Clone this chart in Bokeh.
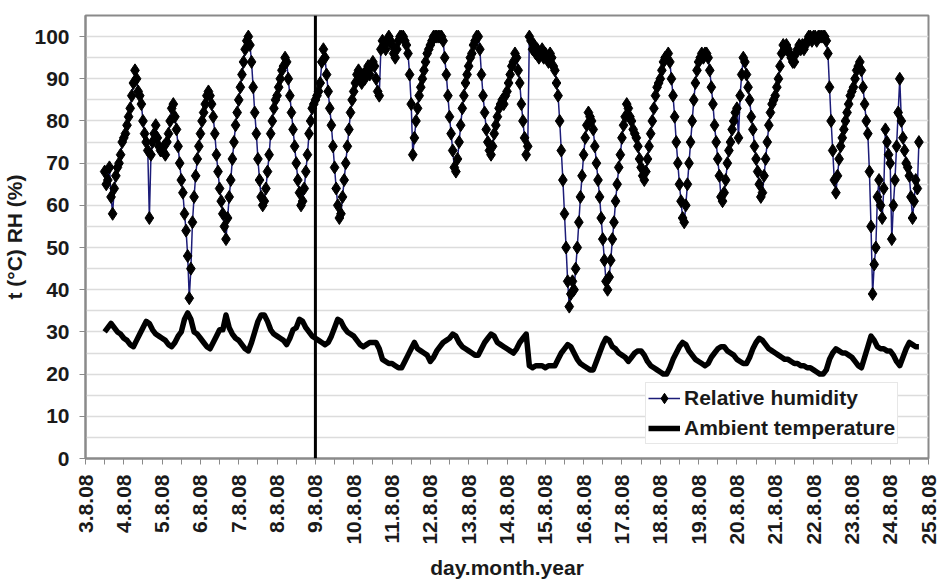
import numpy as np
from bokeh.plotting import figure
from bokeh.models import (ColumnDataSource, FixedTicker, Span, Legend, LegendItem)
from bokeh.embed import file_html
from bokeh.resources import INLINE

# ---- data ----
# relative humidity, hourly, first sample 3.8.08 12:00
rh_start_day = 3.5
rh_step_hours = 1
rh = [
    # 3.8 (12:00-23:00)
    68, 65, 66, 69, 62, 58, 64, 67, 69, 70, 72, 75,
    # 4.8
    76, 77, 79, 81, 83, 86, 89, 92, 90, 87, 86, 84,
    80, 77, 75, 73, 57, 72, 75, 77, 79, 76, 74, 73,
    # 5.8
    73, 74, 72, 75, 77, 80, 83, 84, 81, 78, 74, 70,
    66, 63, 58, 54, 48, 38, 45, 56, 62, 67, 71, 74,
    # 6.8
    77, 80, 82, 84, 86, 87, 86, 84, 81, 77, 72, 68,
    64, 61, 58, 55, 52, 57, 62, 66, 71, 75, 79, 82,
    # 7.8
    85, 88, 91, 94, 97, 99, 100, 98, 94, 88, 82, 77,
    71, 66, 62, 60, 61, 64, 68, 72, 77, 80, 83, 85,
    # 8.8
    86, 88, 90, 92, 93, 95, 94, 90, 86, 82, 78, 74,
    70, 66, 63, 60, 61, 64, 68, 72, 77, 80, 83, 84,
    # 9.8
    85, 86, 87, 89, 94, 97, 95, 91, 87, 83, 79, 74,
    69, 64, 60, 57, 58, 62, 66, 70, 74, 78, 82, 85,
    # 10.8
    87, 89, 91, 92, 90, 89, 91, 90, 92, 93, 91, 93,
    94, 93, 90, 87, 86, 97, 99, 98, 97, 99, 100, 99,
    # 11.8
    98, 96, 95, 97, 99, 100, 100, 100, 99, 98, 96, 91,
    84, 72, 76, 80, 83, 86, 88, 90, 92, 94, 96, 97,
    # 12.8
    98, 99, 100, 100, 100, 100, 100, 100, 99, 95, 91, 86,
    81, 77, 73, 69, 68, 71, 75, 79, 83, 86, 89, 91,
    # 13.8
    93, 95, 96, 98, 99, 100, 100, 97, 91, 86, 82, 78,
    75, 73, 72, 74, 77, 79, 81, 83, 84, 85, 84, 86,
    # 14.8
    87, 89, 91, 93, 94, 96, 95, 92, 89, 84, 80, 76,
    72, 74, 100, 99, 97, 98, 96, 97, 95, 96, 97, 95,
    # 15.8
    96, 95, 94, 96, 95, 93, 92, 89, 86, 80, 73, 66,
    58, 50, 42, 36, 39, 42, 40, 45, 50, 56, 62, 67,
    # 16.8
    72, 76, 79, 82, 81, 80, 78, 74, 70, 66, 62, 57,
    52, 47, 42, 40, 43, 47, 52, 56, 61, 65, 69, 72,
    # 17.8
    76, 79, 81, 84, 83, 81, 80, 78, 77, 76, 74, 71,
    69, 67, 66, 68, 71, 74, 77, 80, 83, 86, 88, 89,
    # 18.8
    90, 92, 94, 95, 95, 96, 94, 90, 86, 81, 75, 70,
    65, 61, 57, 56, 60, 65, 70, 75, 80, 85, 89, 92,
    # 19.8
    94, 95, 96, 95, 96, 96, 95, 92, 88, 84, 79, 75,
    71, 67, 62, 61, 63, 66, 70, 73, 75, 78, 80, 82,
    # 20.8
    83, 76, 86, 91, 95, 94, 91, 88, 85, 81, 78, 74,
    71, 68, 65, 62, 63, 67, 71, 75, 79, 82, 84, 85,
    # 21.8
    86, 88, 90, 93, 96, 98, 97, 98, 97, 96, 95, 94,
    94, 96, 97, 98, 97, 98, 97, 98, 99, 100, 100, 99,
    # 22.8
    100, 100, 99, 100, 100, 100, 100, 100, 99, 96, 88, 80,
    73, 66, 63, 67, 71, 74, 76, 78, 80, 82, 84, 86,
    # 23.8
    87, 88, 90, 92, 93, 94, 92, 88, 84, 80, 77, 68,
    55, 39, 46, 50, 62, 66, 60, 57, 64, 78, 75, 72,
    # 24.8 (00:00-18:00)
    70, 52, 60, 66, 74, 82, 90, 80, 76, 73, 70, 69,
    67, 62, 57, 61, 66, 64, 75,
]

# ambient temperature, every 2 hours, first sample 3.8.08 12:00
t_start_day = 3.5
t_step_hours = 2
temp = [
    # 3.8
    30, 31, 32, 31, 30, 29.5,
    # 4.8
    28.5, 28, 27, 26.5, 28, 29.5, 31, 32.5, 32, 30.5, 29.5, 29,
    # 5.8
    28.5, 28, 27, 26.5, 27.5, 29, 30, 33, 34.5, 33, 30, 29.5,
    # 6.8
    28.5, 27.5, 26.5, 26, 27.5, 29, 30.5, 30.5, 34, 31, 29.5, 28.5,
    # 7.8
    28, 27, 26, 25.5, 27.5, 30, 32.5, 34, 34, 32.5, 30.5, 29.5,
    # 8.8
    29, 28.5, 28, 27, 28.5, 30.5, 31, 33, 32.5, 31, 30, 29,
    # 9.8
    28.5, 28, 27.5, 27, 27.5, 29, 31, 33, 32.5, 31, 30, 29.5,
    # 10.8
    29, 28, 27, 26.5, 27, 27.5, 27.5, 27.5, 26, 23.5, 23, 22.5,
    # 11.8
    22.5, 22, 21.5, 21.5, 23, 24.5, 26, 27.5, 26, 25.5, 25, 24.5,
    # 12.8
    23, 24, 25.5, 26.5, 27.5, 28, 28.5, 29.5, 29, 27.5, 26.5, 26,
    # 13.8
    25.5, 25, 24.5, 24.5, 26, 27.5, 28.5, 29.5, 29, 27.5, 27, 26.5,
    # 14.8
    26, 25.5, 25, 26, 27.5, 28.5, 29.5, 22, 21.5, 22, 22, 22,
    # 15.8
    21.5, 22, 22, 22, 23.5, 25, 26, 27, 26.5, 25, 23.5, 22.5,
    # 16.8
    22, 21.5, 21, 21, 23, 25, 27, 28.5, 28, 26.5, 26, 25,
    # 17.8
    24.5, 24, 23, 24, 25, 25.5, 25.5, 24.5, 23, 22, 21.5, 21,
    # 18.8
    20.5, 20, 20, 21.5, 23.5, 25, 26.5, 27.5, 27, 25.5, 24.5, 23.5,
    # 19.8
    23, 22.5, 22, 22.5, 24, 25, 26, 26.5, 26.5, 25.5, 25, 24.5,
    # 20.8
    23.5, 23, 22.5, 22.5, 24, 26, 27.5, 28.5, 28, 27, 26, 25.5,
    # 21.8
    25, 24.5, 24, 23.5, 23.5, 23, 22.5, 22.5, 22, 22, 21.5, 21.5,
    # 22.8
    21, 20.5, 20, 20, 21, 23.5, 25, 26, 25.5, 25, 25, 24.5,
    # 23.8
    24, 23, 22, 21.5, 24, 26.5, 29, 28, 26.5, 26, 26, 25.5,
    # 24.8
    25.5, 24.5, 23, 22, 24, 26, 27.5, 27, 26.5, 26.5,
]

tick_days = [3, 4, 5, 6, 7, 8, 9, 10, 11, 12, 13, 14, 15, 16, 17, 18, 19,
             20, 21, 22, 23, 24, 25]
tick_labels = ["3.8.08", "4.8.08", "5.8.08", "6.8.08", "7.8.08", "8.8.08",
               "9.8.08", "10.8.08", "11.8.08", "12.8.08", "13.8.08",
               "14.8.08", "15.8.08", "16.8.08", "17.8.08", "18.8.08",
               "19.8.08", "20.8.08", "21.8.08", "22.8.08", "23.8.08",
               "24.8.08", "25.8.08"]
y_ticks = [0, 10, 20, 30, 40, 50, 60, 70, 80, 90, 100]
marker_day = 9  # vertical line at 9.8.08

# ---- build ----
t_rh = rh_start_day + np.arange(len(rh)) * rh_step_hours / 24.0
t_tp = t_start_day + np.arange(len(temp)) * t_step_hours / 24.0
src_rh = ColumnDataSource(dict(t=t_rh, v=rh))
src_tp = ColumnDataSource(dict(t=t_tp, v=temp))

FONT = "Liberation Sans"
FS = "21px"

p = figure(width=938, height=581, x_range=(3, 25), y_range=(0, 105),
           output_backend="svg", toolbar_location=None,
           min_border_left=84, min_border_right=10,
           min_border_top=15, min_border_bottom=118,
           background_fill_color="white", border_fill_color="white")

p.outline_line_color = "#8a8a8a"
p.outline_line_width = 2

# grid
p.xgrid.visible = False
p.ygrid.ticker = FixedTicker(ticks=list(range(5, 105, 5)))
p.ygrid.grid_line_color = "#dcdcdc"
p.ygrid.grid_line_width = 1.5

# axes
minor = [d + 0.5 for d in tick_days[:-1]]
p.xaxis.ticker = FixedTicker(ticks=tick_days, minor_ticks=minor)
p.xaxis.major_label_overrides = {d: lab for d, lab in zip(tick_days, tick_labels)}
p.xaxis.major_label_orientation = np.pi / 2
p.yaxis.ticker = FixedTicker(ticks=y_ticks)

for ax in (p.xaxis, p.yaxis):
    ax.axis_line_color = "#8a8a8a"
    ax.axis_line_width = 2
    ax.major_tick_line_color = "#8a8a8a"
    ax.minor_tick_line_color = "#8a8a8a"
    ax.major_tick_out = 6
    ax.major_tick_in = 0
    ax.minor_tick_in = 0
    ax.major_label_text_font = FONT
    ax.major_label_text_font_style = "bold"
    ax.major_label_text_font_size = FS
    ax.major_label_text_color = "#1a1a1a"
    ax.axis_label_text_font = FONT
    ax.axis_label_text_font_style = "bold"
    ax.axis_label_text_font_size = FS
    ax.axis_label_text_color = "#1a1a1a"

p.xaxis.minor_tick_out = 6
p.yaxis.minor_tick_out = 0
p.xaxis.major_label_standoff = 10
p.yaxis.major_label_standoff = 10
p.xaxis.axis_label = "day.month.year"
p.yaxis.axis_label = "t (°C) RH (%)"
p.xaxis.axis_label_standoff = 8
p.yaxis.axis_label_standoff = 5

# series
rh_line = p.line("t", "v", source=src_rh, line_color="#1c1c78", line_width=1.5)
rh_pts = p.scatter("t", "v", source=src_rh, marker="diamond", size=13,
                   fill_color="black", line_color="black", line_width=1)
temp_line = p.line("t", "v", source=src_tp, line_color="black", line_width=5.5,
                   line_join="round")

vline = Span(location=marker_day, dimension="height", line_color="black",
             line_width=3)
p.add_layout(vline)

legend = Legend(items=[
    LegendItem(label="Relative humidity", renderers=[rh_line, rh_pts]),
    LegendItem(label="Ambient temperature", renderers=[temp_line]),
])
legend.location = (560, 14)
legend.label_text_font = FONT
legend.label_text_font_style = "bold"
legend.label_text_font_size = FS
legend.label_text_color = "#1a1a1a"
legend.glyph_width = 32
legend.glyph_height = 26
legend.label_height = 26
legend.label_standoff = 4
legend.spacing = 4
legend.padding = 2
legend.margin = 0
legend.border_line_color = "#d0d0d0"
legend.border_line_width = 1
legend.background_fill_color = "white"
legend.background_fill_alpha = 1
p.add_layout(legend)

open("out.html", "w").write(file_html(p, INLINE))
